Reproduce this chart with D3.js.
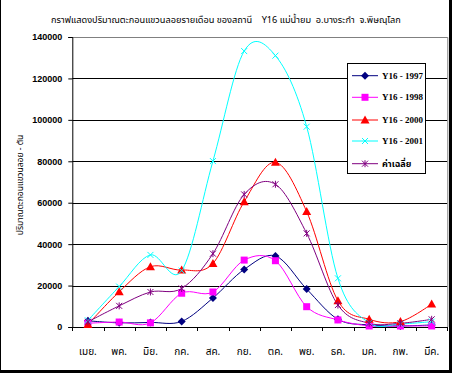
<!DOCTYPE html>
<html><head><meta charset="utf-8">
<script src="https://cdn.jsdelivr.net/npm/d3@7"></script>
<style>html,body{margin:0;padding:0;background:#fff;}svg{display:block;}</style>
</head><body>
<script>
const months = ["เมย.","พค.","มิย.","กค.","สค.","กย.","ตค.","พย.","ธค.","มค.","กพ.","มีค."];
const yTicks = [0,20000,40000,60000,80000,100000,120000,140000];
const s1997 = [3000,2000,2200,2700,14000,27800,34300,18300,3700,1000,500,1000];
const s1998 = [1800,2400,2000,16300,16900,32300,32000,9800,3400,500,500,500];
const s2000 = [1200,17000,29100,27500,30700,60500,79500,55700,12700,3700,2600,11100];
const s2001 = [3200,19500,34800,27200,80100,133200,131000,96700,23500,2000,1500,2600];
const sAvg  = [2500,10200,16900,18600,35400,64000,68900,45200,10600,1800,1800,3700];
const seriesNames = ["Y16 - 1997","Y16 - 1998","Y16 - 2000","Y16 - 2001","ค่าเฉลี่ย"];
const title = "กราฟแสดงปริมาณตะกอนแขวนลอยรายเดือน ของสถานี    Y16 แม่น้ำยม  อ.บางระกำ  จ.พิษณุโลก";
const yLabel = "ปริมาณตะกอนแขวนลอย - ตัน";

const series = [
  {name:seriesNames[0], values:s1997, color:"#000080", marker:"diamond"},
  {name:seriesNames[1], values:s1998, color:"#ff00ff", marker:"square"},
  {name:seriesNames[2], values:s2000, color:"#ff0000", marker:"triangle"},
  {name:seriesNames[3], values:s2001, color:"#00ffff", marker:"x"},
  {name:seriesNames[4], values:sAvg,  color:"#800080", marker:"star"}
];

const W=452,H=373;
const svg=d3.select("body").append("svg").attr("width",W).attr("height",H);
svg.append("rect").attr("width",W).attr("height",H).attr("fill","#fff");

const L=72.3,R=447.3,T=37,B=327;
const x=d3.scaleBand().domain(months).range([L,R]);
const y=d3.scaleLinear().domain([0,140000]).range([B,T]);
const thaiFont="Tahoma, 'Noto Sans Thai', 'Noto Sans', sans-serif";

// gridlines
svg.append("g").selectAll("line").data(yTicks.filter(d=>d>0 && d<140000)).join("line")
  .attr("x1",L).attr("x2",R).attr("y1",d=>Math.round(y(d))+0.5).attr("y2",d=>Math.round(y(d))+0.5)
  .attr("stroke","#000").attr("stroke-width",1);
// plot border top/right gray
svg.append("path").attr("d",`M${L},${T+0.5}H${R+0.5}V${B}`).attr("fill","none").attr("stroke","#808080");

// y axis
const ya=svg.append("g").attr("transform",`translate(${L},0)`)
  .call(d3.axisLeft(y).tickValues(yTicks).tickSize(4).tickPadding(6).tickFormat(d3.format("d")));
ya.select(".domain").attr("stroke","#000");
ya.selectAll("text").attr("font-family","Liberation Sans, Arial, sans-serif").attr("font-size","9px").attr("font-weight","bold").attr("fill","#000");
ya.selectAll(".tick line").attr("stroke","#000");

// x axis
const xa=svg.append("g").attr("transform",`translate(0,${B})`)
  .call(d3.axisBottom(x).tickSize(0).tickPadding(21));
xa.select(".domain").attr("stroke","#000");
xa.selectAll("text").attr("font-family",thaiFont).attr("font-size","10px").attr("fill","#000");
// x tick marks at band boundaries
svg.append("g").selectAll("line").data(months.concat(["_end"])).join("line")
  .attr("x1",(d,i)=>Math.round(L+i*x.bandwidth())+0.5).attr("x2",(d,i)=>Math.round(L+i*x.bandwidth())+0.5)
  .attr("y1",B).attr("y2",B+4).attr("stroke","#000");

const cx=i=>x(months[i])+x.bandwidth()/2;
const line=d3.line().x((d,i)=>cx(i)).y(d=>y(d)).curve(d3.curveCardinal.tension(0));

function marker(g,type,color){
  if(type==="diamond"){g.append("path").attr("d","M0,-4L4,0L0,4L-4,0Z").attr("fill",color);}
  else if(type==="square"){g.append("rect").attr("x",-3.5).attr("y",-3.5).attr("width",7).attr("height",7).attr("fill",color);}
  else if(type==="triangle"){g.append("path").attr("d","M0,-4.5L4.5,3.5L-4.5,3.5Z").attr("fill",color);}
  else if(type==="x"){g.append("path").attr("d","M-3,-3L3,3M-3,3L3,-3").attr("stroke",color).attr("stroke-width",1);}
  else if(type==="star"){g.append("path").attr("d","M-3,-3L3,3M-3,3L3,-3M0,-3.5V3.5").attr("stroke",color).attr("stroke-width",1);}
}

series.forEach(s=>{
  svg.append("path").attr("d",line(s.values)).attr("fill","none").attr("stroke",s.color).attr("stroke-width",1);
});
series.forEach(s=>{
  s.values.forEach((v,i)=>{
    const g=svg.append("g").attr("transform",`translate(${cx(i)},${y(v)})`);
    marker(g,s.marker,s.color);
  });
});

// legend
const lg=svg.append("g");
lg.append("rect").attr("x",347.5).attr("y",63.5).attr("width",78).attr("height",110).attr("fill","#fff").attr("stroke","#000");
const ly=[75.7,97.3,120,141,163.7];
series.forEach((s,i)=>{
  lg.append("line").attr("x1",352).attr("x2",378).attr("y1",ly[i]).attr("y2",ly[i]).attr("stroke",s.color);
  const g=lg.append("g").attr("transform",`translate(365,${ly[i]})`);
  marker(g,s.marker,s.color);
  lg.append("text").attr("x",382).attr("y",ly[i]).attr("dy","0.35em").text(s.name)
    .attr("font-family", i===4 ? thaiFont : "Liberation Serif, serif").attr("font-size","9px").attr("font-weight","bold").attr("fill","#000");
});

// title
svg.append("text").attr("x",226).attr("y",20).attr("dy","0.35em").attr("text-anchor","middle").text(title)
  .attr("font-family",thaiFont).attr("font-size","9.2px").attr("fill","#000").style("white-space","pre");

// y label
svg.append("text").attr("transform","translate(20,185) rotate(-90)").attr("text-anchor","middle").attr("dy","0.35em")
  .text(yLabel).attr("font-family",thaiFont).attr("font-size","8.5px").attr("fill","#000");

// outer frame
svg.append("line").attr("x1",0.5).attr("x2",0.5).attr("y1",0).attr("y2",372).attr("stroke","#000");
svg.append("rect").attr("x",449).attr("y",0).attr("width",3).attr("height",373).attr("fill","#000");
svg.append("rect").attr("x",0).attr("y",370).attr("width",452).attr("height",3).attr("fill","#000");
</script>
</body></html>
